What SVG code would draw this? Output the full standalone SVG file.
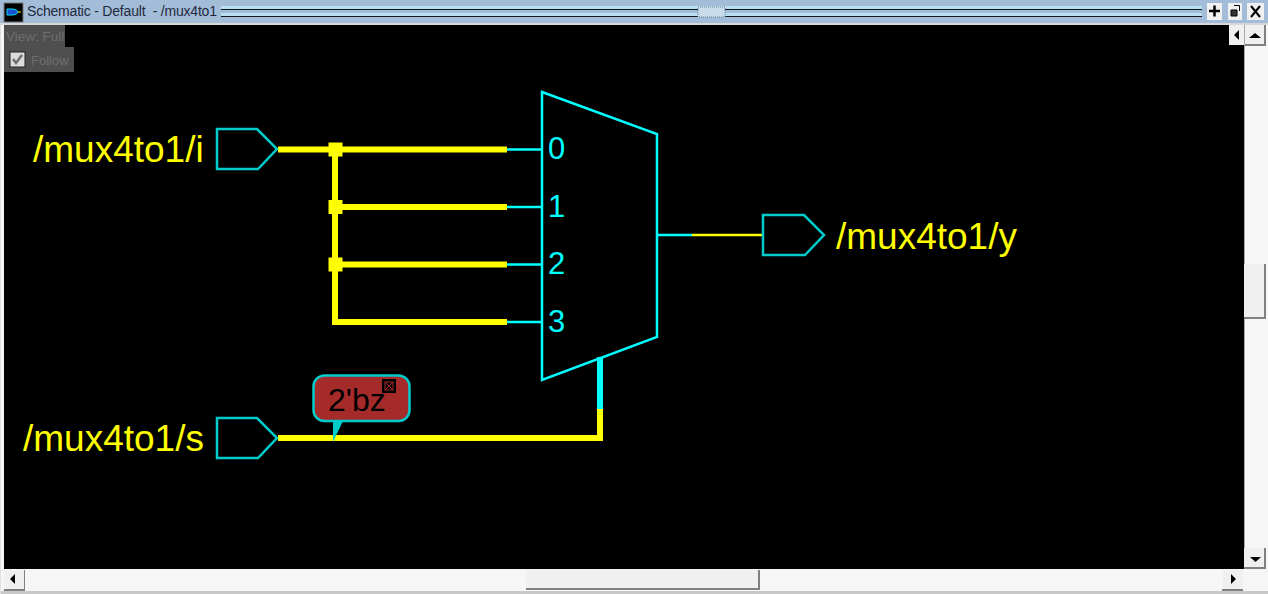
<svg xmlns="http://www.w3.org/2000/svg" width="1268" height="594" viewBox="0 0 1268 594">
<style>
text{font-family:"Liberation Sans",Arial,sans-serif}
.sig{font-size:37px;fill:#ffff00}
.pin{font-size:31px;fill:#00ffff}
.port{fill:none;stroke:#00cccc;stroke-width:2.500}
.bus{fill:none;stroke:#ffff00;stroke-width:6}
.cy{fill:none;stroke:#00ffff;stroke-width:2.500}
.btn{fill:#f0f0f0;stroke:none}
.shadow{fill:#808080}
.ar{fill:#000}
.dot{fill:#ffff00}
</style>
<rect width="1268" height="594" fill="#f6f6f6"/>
<g id="titlebar">
<rect x="0" y="0" width="1268" height="23" fill="#a3bcd8"/>
<rect x="0" y="23" width="1268" height="2" fill="#d8d8d8"/>
<rect x="4" y="3" width="19" height="19" fill="#000" stroke="#777"/>
<path d="M7 9h6q4 0 5 3q-1 3-5 3H7z" fill="#1a4fd0" stroke="#00e0f0"/>
<path d="M18 12h3" stroke="#ffff00"/>
<text x="27" y="16" font-size="14" fill="#1f2a3c" textLength="190" lengthAdjust="spacing">Schematic - Default &#160;- /mux4to1</text>
<rect x="221" y="6" width="981" height="3" fill="#b8e0f0"/><rect x="221" y="9" width="981" height="1" fill="#101820"/>
<rect x="221" y="13" width="981" height="3" fill="#b8e0f0"/><rect x="221" y="16" width="981" height="1" fill="#101820"/>
<rect x="221" y="10" width="981" height="3" fill="#a3bcd8"/>
<rect x="698" y="7" width="27" height="10" fill="#c8dcec" stroke="#708090" stroke-dasharray="1 1"/>
<rect x="1207" y="3" width="15" height="17" class="btn"/>
<path d="M1214.500 5.500v11M1209 11h11" stroke="#000" stroke-width="2.500"/>
<rect x="1228" y="3" width="14" height="17" class="btn"/>
<path d="M1231 10h6v6h-6z" fill="#333" stroke="#000"/><path d="M1234 5.500h5.500v5.500" fill="none" stroke="#000"/>
<rect x="1247" y="3" width="17" height="17" class="btn"/>
<path d="M1251 6l9 11M1260 6l-9 11" stroke="#000" stroke-width="2"/>
</g>
<rect id="canvas" x="4" y="25" width="1240" height="544" fill="#000"/>
<g id="view-controls">
<rect x="4" y="25" width="61" height="22" fill="#4f4f4f"/>
<text x="6" y="41" font-size="13.500" fill="#6e6e6e">View: Full</text>
<rect x="4" y="47" width="70" height="25" fill="#4f4f4f"/>
<rect x="10" y="52" width="15" height="15" fill="#dcdcdc" stroke="#222"/>
<path d="M13 59l3 4 6-8" fill="none" stroke="#6e6e6e" stroke-width="2.500"/>
<text x="31" y="65" font-size="13" fill="#6e6e6e">Follow</text>
</g>
<g id="scrollbars">
<rect x="1229" y="25" width="15" height="20" fill="#f0f0f0"/>
<path d="M1239 30v10l-5-5z" class="ar"/>
<rect x="1245" y="25" width="20" height="20" class="btn"/>
<rect x="1264" y="25" width="2" height="21" class="shadow"/><rect x="1245" y="44" width="21" height="2" class="shadow"/>
<path d="M1249 38h12l-6-5z" class="ar"/>
<rect x="1244" y="25" width="1" height="544" fill="#a8a8a8"/>
<rect x="1244" y="264" width="21" height="54" class="btn"/>
<rect x="1264" y="264" width="2" height="54" class="shadow"/><rect x="1244" y="317" width="22" height="2" class="shadow"/>
<rect x="1244" y="548" width="21" height="20" class="btn"/>
<rect x="1264" y="548" width="2" height="21" class="shadow"/><rect x="1244" y="567" width="22" height="2" class="shadow"/>
<path d="M1250 557h11l-5.500 5z" class="ar"/>
<rect x="4" y="570" width="20" height="20" class="btn"/>
<rect x="24" y="570" width="1" height="20" class="shadow"/><rect x="4" y="589" width="21" height="2" class="shadow"/>
<path d="M15 574v10l-5-5z" class="ar"/>
<rect x="526" y="570" width="232" height="18" class="btn"/>
<rect x="758" y="570" width="2" height="20" class="shadow"/><rect x="526" y="588" width="234" height="2" class="shadow"/>
<rect x="1223" y="570" width="20" height="20" class="btn"/>
<rect x="1222" y="589" width="21" height="2" class="shadow"/>
<path d="M1231 574v10l5-5z" class="ar"/>
<rect x="0" y="591" width="1268" height="3" fill="#c8c8c8"/>
<rect x="0" y="25" width="1" height="569" fill="#e0e0e0"/>
</g>
<g id="connectors">
<path class="cy" d="M507 149.500h35M507 207h35M507 264.500h35M507 322h35M658 235h34"/>
<path class="bus" d="M278 149.500h229M335 149.500V322M335 207h172M335 264.500h172M332 322h175"/>
<path d="M692 235h71" fill="none" stroke="#ffff00" stroke-width="2.500"/>
<path class="bus" d="M278 438h322V409"/>
<path d="M600 409V357" fill="none" stroke="#00ffff" stroke-width="6"/>
<rect class="dot" x="328.500" y="142.500" width="14" height="14"/>
<rect class="dot" x="328.500" y="200" width="14" height="14"/>
<rect class="dot" x="328.500" y="257.500" width="14" height="14"/>
</g>
<g id="port-i">
<path class="port" d="M217 129h40l20 20-19 20h-41z"/>
<text class="sig" x="33" y="162">/mux4to1/i</text>
</g>
<g id="port-s">
<path class="port" d="M217 418h40l20 20-19 20h-41z"/>
<text class="sig" x="23" y="451">/mux4to1/s</text>
</g>
<g id="port-y">
<path class="port" d="M763 215h41l20 20-19 20h-42z"/>
<text class="sig" x="836" y="249">/mux4to1/y</text>
</g>
<g id="mux">
<path class="cy" d="M542 92L657 134V337L542 380z"/>
<text class="pin" x="548" y="159">0</text>
<text class="pin" x="548" y="217">1</text>
<text class="pin" x="548" y="274">2</text>
<text class="pin" x="548" y="332">3</text>
</g>
<g id="value-tip">
<path d="M333 421h10l-10 21z" fill="#00cccc"/>
<rect x="313.500" y="375.500" width="96" height="45.500" rx="11" fill="#a52a2a" stroke="#00cccc" stroke-width="2.500"/>
<text x="328" y="411" font-size="32" fill="#000">2'bz</text>
<rect x="382" y="379" width="14" height="14" fill="#000"/>
<rect x="385" y="382" width="8" height="8" fill="none" stroke="#a52a2a"/>
<path d="M385 382l8 8M393 382l-8 8" stroke="#a52a2a"/>
</g>
</svg>
